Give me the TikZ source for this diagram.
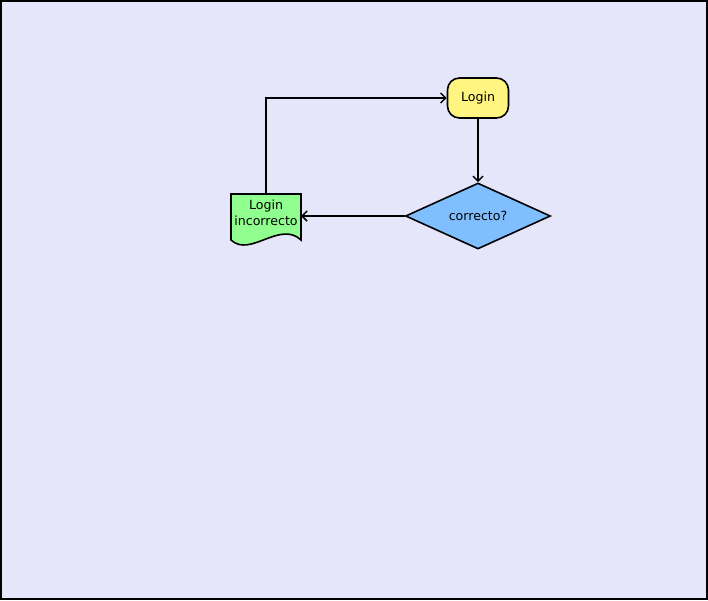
\documentclass[tikz,border=0pt]{standalone}
\usepackage{fontspec}
\setmainfont{DejaVu Sans}
\usetikzlibrary{arrows.meta,shapes.geometric}
\definecolor{bgc}{HTML}{E6E6FA}
\definecolor{termc}{HTML}{FFF580}
\definecolor{decc}{HTML}{80BFFF}
\definecolor{docc}{HTML}{90FF90}
\begin{document}
\begin{tikzpicture}[x=1pt,y=-1pt,
  lbl/.style={font=\fontsize{12.6}{15.5}\selectfont, align=center, inner sep=0pt},
  shapeline/.style={draw=black, line width=1.6pt},
  conn/.style={draw=black, line width=1.7pt, -{Straight Barb[length=5pt,width=10pt,line width=1.5pt]}}]
\useasboundingbox (0,0) rectangle (708,600);
\fill[bgc] (0,0) rectangle (708,600);
\draw[line width=2pt] (1,1) rectangle (707,599);
% Login terminal
\node[shapeline, fill=termc, rounded corners=12pt, minimum width=61pt, minimum height=40pt, lbl] (login) at (478,98) {Login};
% decision
\node[shapeline, fill=decc, diamond, aspect=2.2, minimum width=145pt, minimum height=66pt, inner sep=0pt, lbl] (dec) at (478,216) {correcto?};
% document
\coordinate (dtl) at (231,194);
\coordinate (dtr) at (301,194);
\coordinate (dbr) at (301,240);
\coordinate (dbl) at (231,240);
\filldraw[shapeline, fill=docc, line join=miter] (dtl) -- (dtr) -- (dbr) .. controls (280,220) and (250,258) .. (dbl) -- cycle;
\node[lbl] (doc) at (266,213) {Login\\incorrecto};
\coordinate (docE) at (301,216);
\coordinate (docN) at (266,194);
% connectors
\draw[conn] (login.south) -- (dec.north);
\draw[conn] (dec.west) -- (docE);
\draw[conn] (docN) |- (login.west);
\end{tikzpicture}
\end{document}
